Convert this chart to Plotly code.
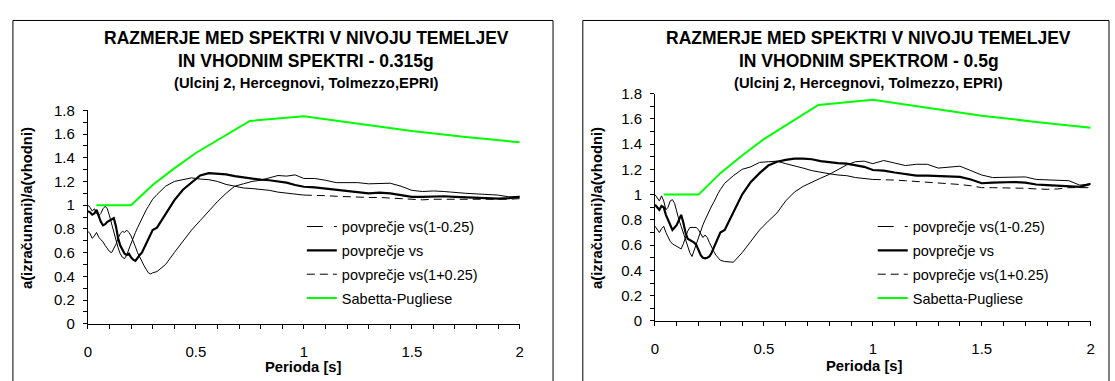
import plotly.graph_objects as go

# ---------------------------------------------------------------------------
# Data: spectral ratio a(izračunani)/a(vhodni) versus period [s]
# ---------------------------------------------------------------------------
PERIOD = [
    0.00, 0.01, 0.02, 0.03, 0.04, 0.05, 0.06, 0.07, 0.08, 0.09,
    0.10, 0.11, 0.12, 0.13, 0.14, 0.15, 0.16, 0.17, 0.18, 0.19,
    0.20, 0.21, 0.22, 0.23, 0.24, 0.25, 0.26, 0.27, 0.28, 0.29,
    0.30, 0.32, 0.36, 0.40, 0.44, 0.48, 0.52, 0.56, 0.60, 0.64,
    0.68, 0.72, 0.76, 0.80, 0.84, 0.88, 0.92, 0.96, 1.00, 1.05,
    1.10, 1.15, 1.20, 1.25, 1.30, 1.35, 1.40, 1.45, 1.50, 1.55,
    1.60, 1.65, 1.70, 1.75, 1.80, 1.85, 1.90, 1.95, 2.00,
]

# 0.315g
L_VS_MINUS = [
    0.78, 0.76, 0.72, 0.74, 0.77, 0.73, 0.71, 0.69, 0.66, 0.63,
    0.61, 0.60, 0.63, 0.67, 0.72, 0.76, 0.78, 0.77, 0.79, 0.77,
    0.74, 0.70, 0.65, 0.60, 0.56, 0.52, 0.49, 0.46, 0.43, 0.42,
    0.43, 0.44, 0.50, 0.60, 0.70, 0.79, 0.87, 0.95, 1.03, 1.10,
    1.16, 1.18, 1.20, 1.21, 1.23, 1.25, 1.245, 1.255, 1.225, 1.225,
    1.21, 1.19, 1.19, 1.19, 1.18, 1.18, 1.185, 1.16, 1.125, 1.115,
    1.12, 1.115, 1.105, 1.10, 1.095, 1.09, 1.085, 1.07, 1.075,
]
L_VS = [
    0.95, 0.94, 0.92, 0.93, 0.96, 0.90, 0.86, 0.83, 0.84, 0.86,
    0.87, 0.88, 0.89, 0.82, 0.72, 0.66, 0.62, 0.59, 0.58, 0.59,
    0.56, 0.54, 0.53, 0.56, 0.58, 0.60, 0.64, 0.68, 0.71, 0.75,
    0.79, 0.81, 0.92, 1.04, 1.13, 1.19, 1.25, 1.27, 1.265, 1.26,
    1.245, 1.235, 1.22, 1.215, 1.21, 1.20, 1.19, 1.17, 1.155, 1.15,
    1.14, 1.13, 1.12, 1.115, 1.10, 1.105, 1.10, 1.085, 1.07, 1.07,
    1.075, 1.075, 1.07, 1.065, 1.06, 1.06, 1.055, 1.06, 1.07,
]
L_VS_PLUS = [
    1.00, 0.98, 0.95, 0.97, 0.93, 0.91, 0.93, 0.97, 0.99, 0.97,
    0.91, 0.84, 0.76, 0.70, 0.64, 0.59, 0.56, 0.55, 0.58, 0.63,
    0.68, 0.73, 0.77, 0.81, 0.85, 0.89, 0.93, 0.96, 0.99, 1.02,
    1.05, 1.09, 1.16, 1.20, 1.215, 1.23, 1.22, 1.215, 1.20, 1.175,
    1.16, 1.145, 1.14, 1.135, 1.125, 1.11, 1.10, 1.09, 1.085, 1.085,
    1.08, 1.075, 1.07, 1.07, 1.065, 1.065, 1.06, 1.055, 1.045, 1.045,
    1.05, 1.05, 1.045, 1.045, 1.045, 1.045, 1.05, 1.05, 1.055,
]

# 0.5g
R_VS_MINUS = [
    0.75, 0.72, 0.70, 0.73, 0.75, 0.70, 0.66, 0.63, 0.61, 0.60,
    0.59, 0.58, 0.57, 0.61, 0.66, 0.71, 0.74, 0.74, 0.74, 0.74,
    0.72, 0.69, 0.66, 0.68, 0.66, 0.62, 0.58, 0.55, 0.52, 0.50,
    0.48, 0.47, 0.465, 0.54, 0.63, 0.72, 0.79, 0.855, 0.95, 1.02,
    1.065, 1.10, 1.13, 1.16, 1.20, 1.235, 1.26, 1.265, 1.245, 1.27,
    1.25, 1.23, 1.24, 1.24, 1.21, 1.22, 1.225, 1.19, 1.155, 1.135,
    1.135, 1.135, 1.14, 1.12, 1.115, 1.115, 1.11, 1.075, 1.085,
]
R_VS = [
    0.92, 0.90, 0.88, 0.91, 0.90, 0.84, 0.80, 0.76, 0.72, 0.74,
    0.76, 0.80, 0.84, 0.78, 0.70, 0.65, 0.64, 0.63, 0.62, 0.60,
    0.56, 0.52, 0.50, 0.495, 0.50, 0.51, 0.54, 0.58, 0.62, 0.67,
    0.70, 0.72, 0.86, 1.00, 1.10, 1.17, 1.23, 1.26, 1.275, 1.285,
    1.285, 1.28, 1.265, 1.255, 1.25, 1.245, 1.23, 1.22, 1.195, 1.19,
    1.175, 1.16, 1.15, 1.15, 1.145, 1.14, 1.14, 1.12, 1.09, 1.095,
    1.10, 1.10, 1.095, 1.08, 1.075, 1.072, 1.07, 1.062, 1.085,
]
R_VS_PLUS = [
    1.00, 0.97, 0.95, 0.99, 0.95, 0.88, 0.90, 0.95, 0.96, 0.93,
    0.86, 0.80, 0.75, 0.70, 0.65, 0.59, 0.54, 0.51, 0.56, 0.62,
    0.66, 0.71, 0.76, 0.80, 0.84, 0.88, 0.91, 0.94, 0.98, 1.01,
    1.04, 1.09, 1.15, 1.20, 1.22, 1.255, 1.26, 1.265, 1.245, 1.23,
    1.21, 1.19, 1.175, 1.165, 1.155, 1.15, 1.135, 1.125, 1.12, 1.12,
    1.115, 1.11, 1.105, 1.10, 1.09, 1.085, 1.08, 1.07, 1.055, 1.055,
    1.055, 1.055, 1.05, 1.045, 1.042, 1.045, 1.055, 1.055, 1.055,
]

# Sabetta-Pugliese ratio
SP_PERIOD = [0.04, 0.2, 0.3, 0.4, 0.5, 0.6, 0.75, 1.0, 1.25, 1.5, 1.75, 2.0]
SP_RATIO = [1.0, 1.0, 1.17, 1.31, 1.44, 1.55, 1.71, 1.75, 1.69, 1.625, 1.575, 1.53]

PANELS = [
    {
        "title": ["RAZMERJE MED SPEKTRI V NIVOJU TEMELJEV",
                  "IN VHODNIM SPEKTRI - 0.315g",
                  "(Ulcinj 2, Hercegnovi, Tolmezzo,EPRI)"],
        "minus": L_VS_MINUS, "mid": L_VS, "plus": L_VS_PLUS,
    },
    {
        "title": ["RAZMERJE MED SPEKTRI V NIVOJU TEMELJEV",
                  "IN VHODNIM SPEKTROM - 0.5g",
                  "(Ulcinj 2, Hercegnovi, Tolmezzo, EPRI)"],
        "minus": R_VS_MINUS, "mid": R_VS, "plus": R_VS_PLUS,
    },
]

LEG_MINUS = "povprečje vs(1-0.25)"
LEG_MID = "povprečje vs"
LEG_PLUS = "povprečje vs(1+0.25)"
LEG_SP = "Sabetta-Pugliese"
X_TITLE = "Perioda [s]"
Y_TITLE = "a(izračunani)/a(vhodni)"

# ---------------------------------------------------------------------------
# Layout geometry (pixels of a 1115 x 381 canvas)
# ---------------------------------------------------------------------------
W, H = 1115, 381
FONT = "Arial, Liberation Sans, sans-serif"
GREEN = "#00FF00"

GEOM = [
    {"plot": (84.5, 519.5, 106.0, 329.5), "frame": (9, 553),
     "title_x": 304.5, "ytitle_x": 23, "xtitle": (302, 375),
     "legend": (300, 211)},
    {"plot": (655.7, 1094.5, 88.5, 326.5), "frame": (583, 1113),
     "title_x": 871, "ytitle_x": 597, "xtitle": (867, 374),
     "legend": (875, 211)},
]


def px_x(v):
    return v / W


def px_y(v):
    return 1 - v / H


fig = go.Figure()
annotations = []
shapes = []

for i, (panel, g) in enumerate(zip(PANELS, GEOM)):
    sfx = "" if i == 0 else str(i + 1)
    xa, ya = "x" + sfx, "y" + sfx
    leg = "legend" + sfx
    head = [k for k, p in enumerate(PERIOD) if p <= 1.0]
    tail = [k for k, p in enumerate(PERIOD) if p >= 1.0]

    # legend entry for the vs(1-0.25) curve
    fig.add_trace(go.Scatter(
        x=[None], y=[None], mode="lines", name=LEG_MINUS,
        line=dict(color="black", width=1, dash="16px,11px"),
        xaxis=xa, yaxis=ya, legend=leg, legendgroup=f"m{i}"))
    fig.add_trace(go.Scatter(
        x=PERIOD, y=panel["mid"], mode="lines", name=LEG_MID,
        line=dict(color="black", width=2.2),
        xaxis=xa, yaxis=ya, legend=leg, legendgroup=f"v{i}"))
    fig.add_trace(go.Scatter(
        x=[PERIOD[k] for k in tail], y=[panel["plus"][k] for k in tail],
        mode="lines", name=LEG_PLUS,
        line=dict(color="black", width=1, dash="8px,5px"),
        xaxis=xa, yaxis=ya, legend=leg, legendgroup=f"p{i}"))
    fig.add_trace(go.Scatter(
        x=SP_PERIOD, y=SP_RATIO, mode="lines", name=LEG_SP,
        line=dict(color=GREEN, width=2),
        xaxis=xa, yaxis=ya, legend=leg, legendgroup=f"s{i}"))
    fig.add_trace(go.Scatter(
        x=PERIOD, y=panel["minus"], mode="lines", name=LEG_MINUS,
        line=dict(color="black", width=1), showlegend=False,
        xaxis=xa, yaxis=ya, legendgroup=f"m{i}"))
    fig.add_trace(go.Scatter(
        x=[PERIOD[k] for k in head], y=[panel["plus"][k] for k in head],
        mode="lines", name=LEG_PLUS,
        line=dict(color="black", width=1), showlegend=False,
        xaxis=xa, yaxis=ya, legendgroup=f"p{i}"))

    x0, x1, y0, y1 = g["plot"]
    common = dict(showgrid=False, zeroline=False, showline=True,
                  linecolor="black", linewidth=1, ticks="outside",
                  ticklen=4, tickwidth=1, tickcolor="black",
                  tickfont=dict(family=FONT, size=15, color="black"))
    fig.update_layout(**{
        "xaxis" + sfx: dict(
            domain=[px_x(x0), px_x(x1)], range=[0, 2], dtick=0.5,
            anchor=ya, ticklabelstandoff=10,
            minor=dict(dtick=0.1, ticks="outside", ticklen=4,
                       tickcolor="black", showgrid=False),
            **common),
        "yaxis" + sfx: dict(
            domain=[px_y(y1), px_y(y0)], range=[0, 1.8], dtick=0.2,
            anchor=xa, ticklabelstandoff=5,
            minor=dict(dtick=0.1, ticks="outside", ticklen=4,
                       tickcolor="black", showgrid=False),
            **common),
        leg: dict(
            x=px_x(g["legend"][0]), y=px_y(g["legend"][1]),
            xanchor="left", yanchor="top", bgcolor="rgba(0,0,0,0)",
            traceorder="grouped", tracegroupgap=2,
            font=dict(family=FONT, size=14.5, color="black")),
    })

    # frame around each chart
    fx0, fx1 = g["frame"]
    shapes.append(dict(type="rect", xref="paper", yref="paper",
                       x0=px_x(fx0), x1=px_x(fx1), y0=-0.05, y1=px_y(12),
                       line=dict(color="black", width=1), layer="below"))

    # chart titles
    for txt, yy, sz in zip(panel["title"], (30, 54, 77), (17.5, 17.5, 14.8)):
        annotations.append(dict(
            text=txt, xref="paper", yref="paper", x=px_x(g["title_x"]),
            y=px_y(yy), xanchor="center", yanchor="middle", showarrow=False,
            font=dict(family=FONT, size=sz, color="black", weight="bold")))
    # axis titles
    annotations.append(dict(
        text=Y_TITLE, xref="paper", yref="paper", x=px_x(g["ytitle_x"]),
        y=px_y(208.5), xanchor="center", yanchor="middle", textangle=-90,
        showarrow=False,
        font=dict(family=FONT, size=14.8, color="black", weight="bold")))
    annotations.append(dict(
        text=X_TITLE, xref="paper", yref="paper", x=px_x(g["xtitle"][0]),
        y=px_y(g["xtitle"][1]), xanchor="center", yanchor="middle",
        showarrow=False,
        font=dict(family=FONT, size=14.8, color="black", weight="bold")))

fig.update_layout(
    width=W, height=H, margin=dict(l=0, r=0, t=0, b=0),
    paper_bgcolor="white", plot_bgcolor="white",
    annotations=annotations, shapes=shapes,
)

fig.write_html("out.html")
